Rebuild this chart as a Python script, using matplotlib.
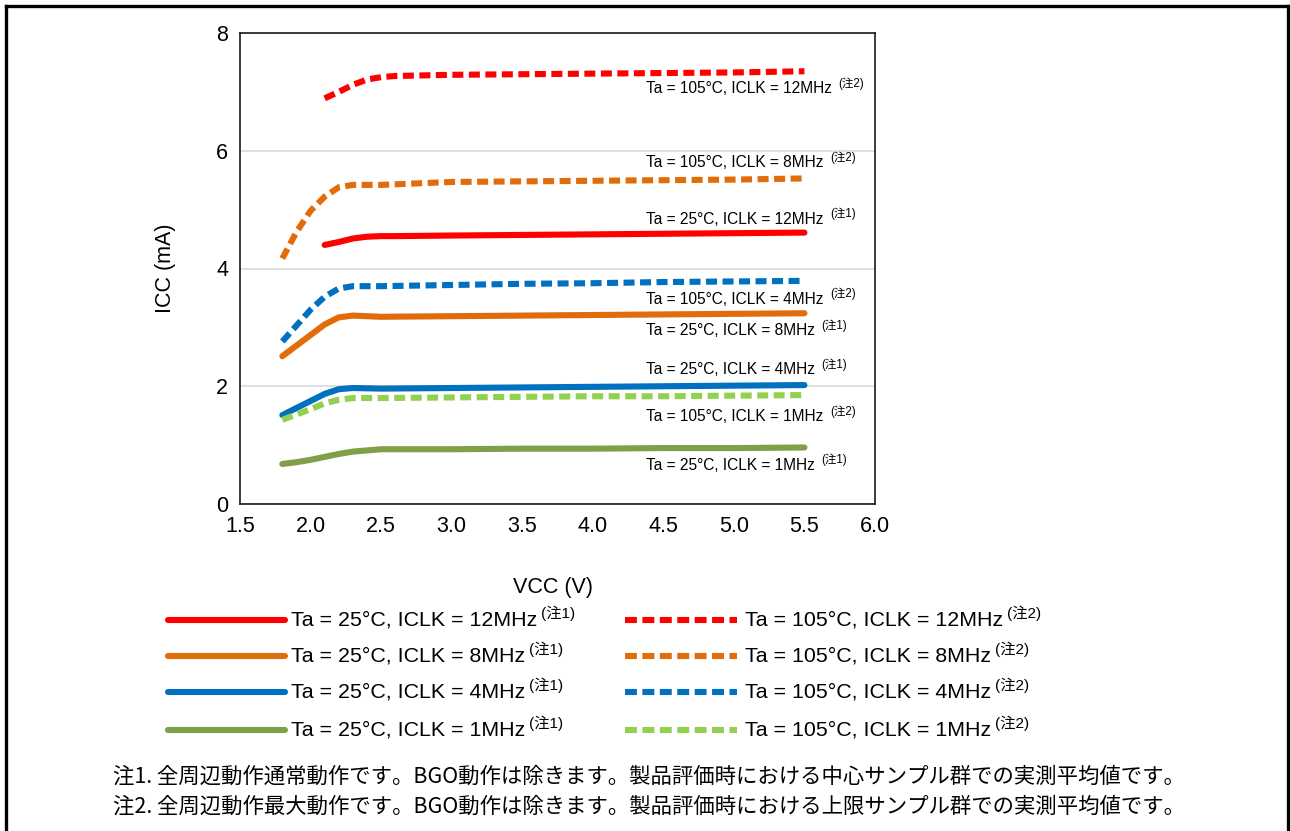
import matplotlib
matplotlib.use("Agg")
import matplotlib.pyplot as plt
from matplotlib.lines import Line2D

plt.rcParams['font.family'] = ['Liberation Sans', 'Noto Sans CJK JP', 'DejaVu Sans']

# ---------------- data ----------------
vcc_low = [1.8, 1.9, 2.0, 2.1, 2.2, 2.3, 2.5, 3.0, 3.5, 4.0, 4.5, 5.0, 5.5]
vcc_12m = [2.1, 2.2, 2.3, 2.4, 2.5, 2.6, 3.0, 3.5, 4.0, 4.5, 5.0, 5.5]

icc_25_12 = [4.40, 4.45, 4.51, 4.54, 4.55, 4.55, 4.56, 4.57, 4.58, 4.59, 4.60, 4.61]
icc_25_8 = [2.51, 2.69, 2.87, 3.05, 3.17, 3.20, 3.18, 3.19, 3.20, 3.21, 3.22, 3.23, 3.24]
icc_25_4 = [1.51, 1.63, 1.75, 1.87, 1.95, 1.97, 1.96, 1.97, 1.98, 1.99, 2.00, 2.01, 2.02]
icc_25_1 = [0.68, 0.71, 0.75, 0.80, 0.85, 0.89, 0.93, 0.93, 0.94, 0.94, 0.95, 0.95, 0.96]
icc_105_12 = [6.89, 7.00, 7.12, 7.21, 7.25, 7.27, 7.29, 7.30, 7.31, 7.32, 7.33, 7.35]
icc_105_8 = [4.17, 4.62, 4.98, 5.22, 5.38, 5.42, 5.42, 5.47, 5.48, 5.49, 5.50, 5.51, 5.53]
icc_105_4 = [2.76, 3.03, 3.30, 3.52, 3.66, 3.70, 3.70, 3.72, 3.74, 3.75, 3.77, 3.78, 3.79]
icc_105_1 = [1.43, 1.52, 1.61, 1.71, 1.77, 1.80, 1.80, 1.81, 1.82, 1.83, 1.83, 1.84, 1.85]

labels_25 = ["Ta = 25°C, ICLK = 12MHz", "Ta = 25°C, ICLK = 8MHz",
             "Ta = 25°C, ICLK = 4MHz", "Ta = 25°C, ICLK = 1MHz"]
labels_105 = ["Ta = 105°C, ICLK = 12MHz", "Ta = 105°C, ICLK = 8MHz",
              "Ta = 105°C, ICLK = 4MHz", "Ta = 105°C, ICLK = 1MHz"]
sup_25 = "(注1)"
sup_105 = "(注2)"

# in-plot label positions (data coords, left edge / vertical centre)
label_x = 4.375
label_y_25 = [4.84, 2.94, 2.28, 0.66]
label_y_105 = [7.05, 5.80, 3.48, 1.49]

x_ticks = [1.5, 2.0, 2.5, 3.0, 3.5, 4.0, 4.5, 5.0, 5.5, 6.0]
y_ticks = [0, 2, 4, 6, 8]

notes = ["注1. 全周辺動作通常動作です。BGO動作は除きます。製品評価時における中心サンプル群での実測平均値です。",
         "注2. 全周辺動作最大動作です。BGO動作は除きます。製品評価時における上限サンプル群での実測平均値です。"]

colors = ["#FF0000", "#E36C0A", "#0070C0", "#7F9F48"]
colors_105 = ["#FF0000", "#E36C0A", "#0070C0", "#92D050"]

# ---------------- figure ----------------
W, H = 1290, 831
fig = plt.figure(figsize=(W / 100, H / 100), dpi=100)

def fx(px):
    return px / W

def fy(py):
    return 1 - py / H

ax = fig.add_axes([fx(240), fy(504), fx(875) - fx(240), fy(33) - fy(504)])

series_25 = [(vcc_12m, icc_25_12), (vcc_low, icc_25_8), (vcc_low, icc_25_4), (vcc_low, icc_25_1)]
series_105 = [(vcc_12m, icc_105_12), (vcc_low, icc_105_8), (vcc_low, icc_105_4), (vcc_low, icc_105_1)]

LW = 4.4
DASH = (1.8, 0.9)
for (xs, ys), c in zip(series_25, colors):
    ax.plot(xs, ys, color=c, lw=LW, solid_capstyle='round', solid_joinstyle='round', zorder=3)
for (xs, ys), c in zip(series_105, colors_105):
    ax.plot(xs, ys, color=c, lw=LW, linestyle=(0, DASH), dash_capstyle='butt',
            dash_joinstyle='round', zorder=3)

ax.set_xlim(1.5, 6.0)
ax.set_ylim(0, 8)
ax.set_xticks(x_ticks)
ax.set_xticklabels([f"{v:.1f}" for v in x_ticks])
ax.set_yticks(y_ticks)
ax.set_yticklabels([str(v) for v in y_ticks])
ax.tick_params(length=0, labelsize=15.5, pad=8.5)
ax.grid(axis='y', color='#D9D9D9', lw=1.2, zorder=0)
ax.set_axisbelow(True)
for s in ax.spines.values():
    s.set_color('#1a1a1a')
    s.set_linewidth(1.2)

ax.set_xlabel("VCC (V)", fontsize=15.5)
ax.set_ylabel("ICC (mA)", fontsize=15.5)
ax.xaxis.set_label_coords(0.493, -0.155)
ax.yaxis.set_label_coords(-0.101, 0.5)

renderer = fig.canvas.get_renderer()

def text_sup(x, y, main, sup, size, sup_size, transform, sup_rise, gap):
    t = fig.text(x, y, main, fontsize=size, va='center', ha='left', transform=transform)
    bb = t.get_window_extent(renderer=renderer)
    fig.text((bb.x1 + gap) / W, (bb.y0 + bb.height * 0.5) / H + sup_rise / H,
             sup, fontsize=sup_size, va='center', ha='left',
             family=['Liberation Sans', 'Noto Sans CJK JP'])

# in-plot labels
for lab, yy in zip(labels_25, label_y_25):
    text_sup(label_x, yy, lab, sup_25, 11.2, 8.3, ax.transData, 5, 7)
for lab, yy in zip(labels_105, label_y_105):
    text_sup(label_x, yy, lab, sup_105, 11.2, 8.3, ax.transData, 5, 7)

# legend (manually laid out)
rows_y = [620, 656, 692, 730]
for i in range(4):
    yy = fy(rows_y[i])
    fig.add_artist(Line2D([fx(168), fx(285)], [yy, yy], color=colors[i], lw=LW,
                          solid_capstyle='round', transform=fig.transFigure))
    text_sup(fx(291), yy, labels_25[i], sup_25, 15.4, 11, fig.transFigure, 7, 4)
    fig.add_artist(Line2D([fx(625), fx(737)], [yy, yy], color=colors_105[i], lw=LW,
                          linestyle=(0, (1.95, 0.9)), dash_capstyle='butt',
                          transform=fig.transFigure))
    text_sup(fx(745), yy, labels_105[i], sup_105, 15.4, 11, fig.transFigure, 7, 4)

# footnotes
for note, py in zip(notes, [777, 807]):
    fig.text(fx(113), fy(py), note, fontsize=15.4, va='center', ha='left',
             family=['Noto Sans CJK JP', 'Liberation Sans'])

# outer border (no bottom edge)
for xs, ys in [([6, 6], [831, 6]), ([6, 1288], [6, 6]), ([1288, 1288], [6, 831])]:
    fig.add_artist(Line2D([fx(v) for v in xs], [fy(v) for v in ys], color='black',
                          lw=2.4, transform=fig.transFigure, solid_capstyle='projecting'))

fig.savefig("out.png", dpi=100)
